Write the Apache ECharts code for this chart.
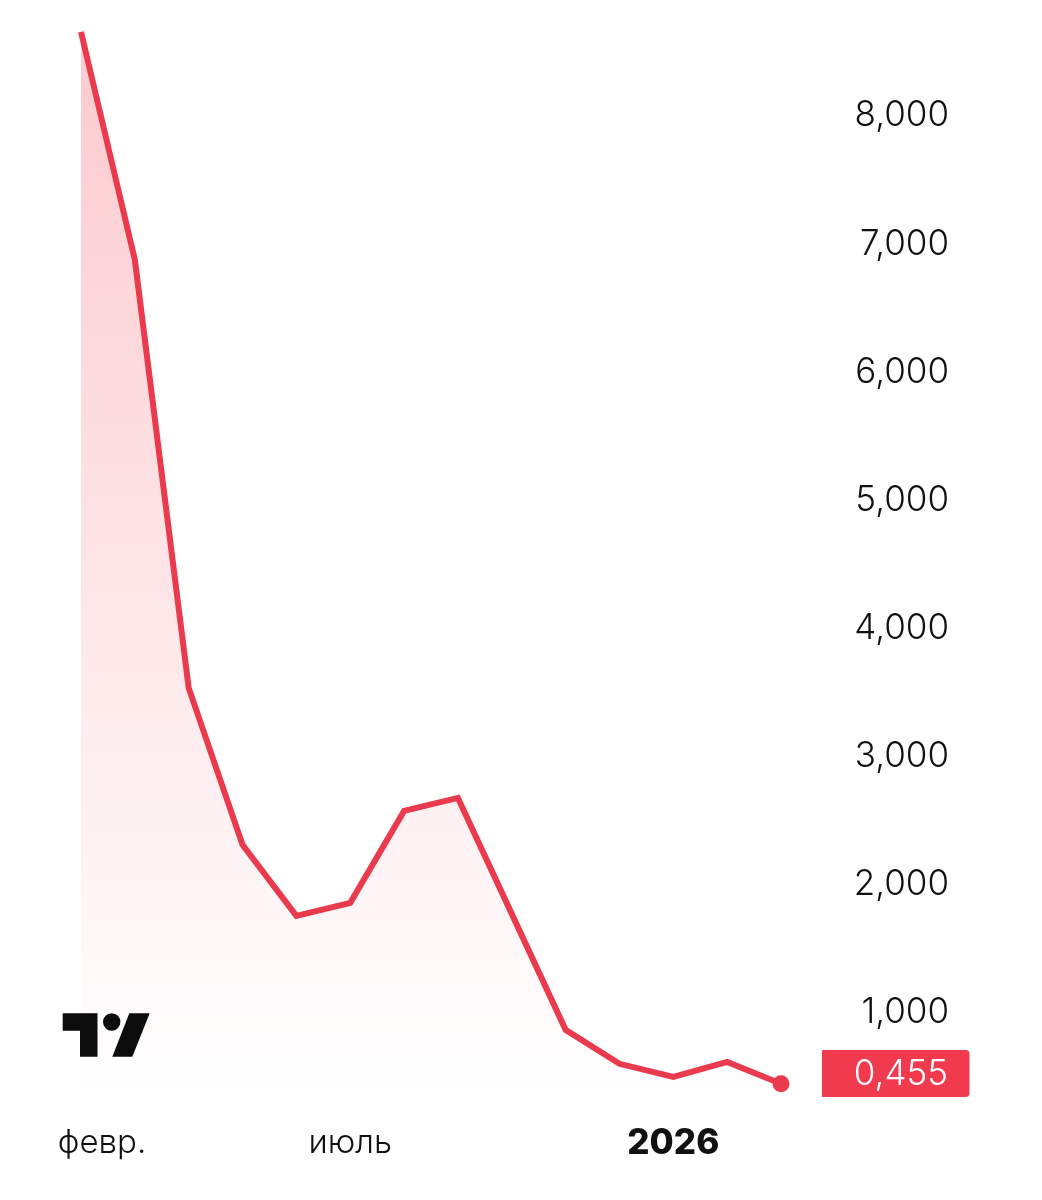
<!DOCTYPE html>
<html><head><meta charset="utf-8">
<style>html,body{margin:0;padding:0;background:#fff}#c{width:1042px;height:1200px}</style>
<script src="https://cdn.jsdelivr.net/npm/echarts@6/dist/echarts.min.js"></script>
</head><body><div id="c"></div>
<script>
const categories = ['февр.','март','апр.','май','июнь','июль','авг.','сент.','окт.','нояб.','дек.','2026','февр. 26','март 26'];
const tickLabels = {0:'февр.',5:'июль',11:'2026'};
const values = [8.632,6.853,3.513,2.288,1.734,1.835,2.553,2.654,1.749,0.844,0.579,0.477,0.594,0.423];
const lastLabel = '0,455';
const FONT = 'Inter';
const RED = '#e93b4d';
const TAG = '#f13a4e';
const INK = '#111111';
const chart = echarts.init(document.getElementById('c'));
chart.setOption({
  animation:false,
  backgroundColor:'#fff',
  grid:{left:81,right:261,top:0,bottom:62},
  xAxis:{type:'category',boundaryGap:false,data:categories,
    axisLine:{show:false},axisTick:{show:false},splitLine:{show:false},
    axisLabel:{interval:0,margin:-15,
      formatter:(v,i)=>{ if(!(i in tickLabels))return ''; if(i===0)return '{s|'+tickLabels[i]+'}'; if(i===11)return '{b|'+tickLabels[i]+'}'; return '{n|'+tickLabels[i]+'}';},
      rich:{
        s:{fontFamily:FONT,fontSize:33,fontWeight:300,color:INK,padding:[0,0,0,42],height:40},
        n:{fontFamily:FONT,fontSize:33,fontWeight:300,color:INK,height:40},
        b:{fontFamily:FONT,fontSize:35,fontWeight:800,color:INK,height:40}
      }}},
  yAxis:{type:'value',position:'right',min:0,max:8.881,interval:1,
    axisLine:{show:false},axisTick:{show:false},splitLine:{show:false},
    axisLabel:{margin:168,align:'right',
      formatter:v=>(v===0||v>8.5)?'':'{t|'+v.toFixed(3).replace('.',',')+'}',
      rich:{t:{fontFamily:FONT,fontSize:35,fontWeight:300,color:INK,padding:[6,0,0,0]}}}},
  series:[{type:'line',symbol:'none',showSymbol:true,showAllSymbol:true,
    data:values.map((v,i)=>i===values.length-1?{value:v,symbol:'circle',symbolSize:17,itemStyle:{color:RED}}:v),
    lineStyle:{color:RED,width:6,cap:'butt',join:'miter'},
    areaStyle:{color:new echarts.graphic.LinearGradient(0,0,0,1,[
      {offset:0,color:'rgba(242,54,69,0.38)'},
      {offset:0.96,color:'rgba(242,54,69,0)'},
      {offset:1,color:'rgba(242,54,69,0)'}])}
  }],
  graphic:[
    {type:'rect',shape:{x:822,y:1050,width:147.5,height:47,r:[0,4,4,0]},style:{fill:TAG},z:10},
    {type:'text',x:948,y:1074.5,style:{text:lastLabel,fill:'#fff',font:'300 35px '+FONT,textAlign:'right',textVerticalAlign:'middle'},z:11},
    {type:'polygon',shape:{points:[[62.7,1013.3],[97.5,1013.3],[97.5,1056.7],[80,1056.7],[80,1030.7],[62.7,1030.7]]},style:{fill:'#0c0c0c'},z:10},
    {type:'circle',shape:{cx:111.7,cy:1022,r:8.7},style:{fill:'#0c0c0c'},z:10},
    {type:'polygon',shape:{points:[[129.3,1013.3],[149.7,1013.3],[132.3,1056.7],[112.3,1056.7]]},style:{fill:'#0c0c0c'},z:10}
  ]
});
</script></body></html>
